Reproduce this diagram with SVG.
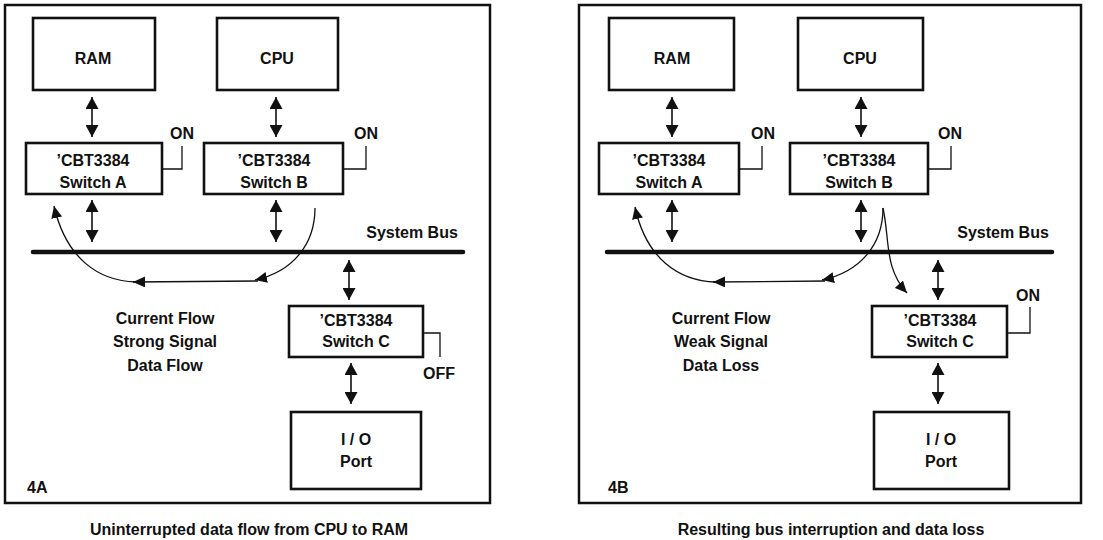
<svg xmlns="http://www.w3.org/2000/svg" width="1103" height="540" viewBox="0 0 1103 540">
<style>
text{font-family:"Liberation Sans",Arial,Helvetica,sans-serif;font-weight:bold;font-size:16px;fill:#111;text-anchor:middle}
.frame{fill:none;stroke:#111;stroke-width:2.5}
.box{fill:#fff;stroke:#111;stroke-width:2.6}
.bus{stroke:#111;stroke-width:4.5;stroke-linecap:round}
.dbl{stroke:#111;stroke-width:1.6;fill:none}
.ctl{stroke:#111;stroke-width:1.3;fill:none}
.flow{stroke:#111;stroke-width:1.3;fill:none}
.lbl{text-anchor:start}
</style>
<defs>
<marker id="ah" viewBox="0 0 12 13" refX="12" refY="6.5" markerWidth="12" markerHeight="13" markerUnits="userSpaceOnUse" orient="auto-start-reverse"><path d="M0,0 L12,6.5 L0,13 z" fill="#111"/></marker>
<marker id="fh" viewBox="0 0 12 11" refX="12" refY="5.5" markerWidth="12" markerHeight="11" markerUnits="userSpaceOnUse" orient="auto"><path d="M0,0 L12,5.5 L0,11 z" fill="#111"/></marker>
</defs>

<!-- Panel 4A -->
<g id="panelA">
<rect class="frame" x="5" y="5" width="485" height="498"/>
<text class="lbl" x="27" y="493">4A</text>
<text x="249" y="535">Uninterrupted data flow from CPU to RAM</text>
</g>
<g id="A-ram"><rect class="box" x="33" y="18" width="122" height="72"/><text x="93" y="64">RAM</text></g>
<g id="A-cpu"><rect class="box" x="217" y="18" width="121" height="72"/><text x="277" y="64">CPU</text></g>
<g id="A-swA"><rect class="box" x="26" y="143" width="136" height="51"/><text x="93" y="166">’CBT3384</text><text x="93" y="188">Switch A</text>
<polyline class="ctl" points="162,169 182,169 182,146"/><text x="182" y="139">ON</text></g>
<g id="A-swB"><rect class="box" x="204" y="143" width="139" height="51"/><text x="274" y="166">’CBT3384</text><text x="274" y="188">Switch B</text>
<polyline class="ctl" points="343,169 366,169 366,146"/><text x="366" y="139">ON</text></g>
<g id="A-bus"><line class="bus" x1="33" y1="252" x2="463" y2="252"/><text x="412" y="238">System Bus</text></g>
<g id="A-swC"><rect class="box" x="289" y="306" width="134" height="51"/><text x="356" y="326">’CBT3384</text><text x="356" y="347">Switch C</text>
<polyline class="ctl" points="423,333 440,333 440,357"/><text x="439" y="379">OFF</text></g>
<g id="A-io"><rect class="box" x="291" y="412" width="130" height="77"/><text x="356" y="445">I / O</text><text x="356" y="467">Port</text></g>
<g id="A-note"><text x="165" y="324">Current Flow</text><text x="165" y="347">Strong Signal</text><text x="165" y="371">Data Flow</text></g>

<!-- Panel 4B -->
<g id="panelB">
<rect class="frame" x="579" y="5" width="502" height="498"/>
<text class="lbl" x="608" y="493">4B</text>
<text x="831" y="535">Resulting bus interruption and data loss</text>
</g>
<g id="B-ram"><rect class="box" x="609" y="18" width="125" height="72"/><text x="672" y="64">RAM</text></g>
<g id="B-cpu"><rect class="box" x="798" y="18" width="125" height="72"/><text x="860" y="64">CPU</text></g>
<g id="B-swA"><rect class="box" x="599" y="143" width="140" height="51"/><text x="669" y="166">’CBT3384</text><text x="669" y="188">Switch A</text>
<polyline class="ctl" points="739,169 762,169 762,146"/><text x="763" y="139">ON</text></g>
<g id="B-swB"><rect class="box" x="790" y="143" width="138" height="51"/><text x="859" y="166">’CBT3384</text><text x="859" y="188">Switch B</text>
<polyline class="ctl" points="928,169 951,169 951,146"/><text x="950" y="139">ON</text></g>
<g id="B-bus"><line class="bus" x1="607" y1="252" x2="1052" y2="252"/><text x="1003" y="238">System Bus</text></g>
<g id="B-swC"><rect class="box" x="872" y="306" width="135" height="51"/><text x="940" y="326">’CBT3384</text><text x="940" y="347">Switch C</text>
<polyline class="ctl" points="1007,333 1030,333 1030,307"/><text x="1028" y="301">ON</text></g>
<g id="B-io"><rect class="box" x="874" y="412" width="135" height="77"/><text x="941" y="445">I / O</text><text x="941" y="467">Port</text></g>
<g id="B-note"><text x="721" y="324">Current Flow</text><text x="721" y="347">Weak Signal</text><text x="721" y="371">Data Loss</text></g>

<!-- Connectors -->
<g id="connectors">
<line class="dbl" x1="92" y1="97" x2="92" y2="137" marker-start="url(#ah)" marker-end="url(#ah)"/>
<line class="dbl" x1="276" y1="97" x2="276" y2="137" marker-start="url(#ah)" marker-end="url(#ah)"/>
<line class="dbl" x1="92" y1="200" x2="92" y2="242" marker-start="url(#ah)" marker-end="url(#ah)"/>
<line class="dbl" x1="276" y1="200" x2="276" y2="242" marker-start="url(#ah)" marker-end="url(#ah)"/>
<line class="dbl" x1="349" y1="260" x2="349" y2="300" marker-start="url(#ah)" marker-end="url(#ah)"/>
<line class="dbl" x1="351" y1="363" x2="351" y2="404" marker-start="url(#ah)" marker-end="url(#ah)"/>
<path class="flow" d="M315,208 C315,245 292,272 255,280" marker-end="url(#fh)"/>
<path class="flow" d="M258,281 L133,282" marker-end="url(#fh)"/>
<path class="flow" d="M136,282 C98,281 66,258 54,206" marker-end="url(#fh)"/>

<line class="dbl" x1="672" y1="97" x2="672" y2="137" marker-start="url(#ah)" marker-end="url(#ah)"/>
<line class="dbl" x1="861" y1="97" x2="861" y2="137" marker-start="url(#ah)" marker-end="url(#ah)"/>
<line class="dbl" x1="672" y1="200" x2="672" y2="242" marker-start="url(#ah)" marker-end="url(#ah)"/>
<line class="dbl" x1="861" y1="200" x2="861" y2="242" marker-start="url(#ah)" marker-end="url(#ah)"/>
<line class="dbl" x1="938" y1="260" x2="938" y2="300" marker-start="url(#ah)" marker-end="url(#ah)"/>
<line class="dbl" x1="938" y1="363" x2="938" y2="404" marker-start="url(#ah)" marker-end="url(#ah)"/>
<path class="flow" d="M883,208 C883,245 860,272 822,280" marker-end="url(#fh)"/>
<path class="flow" d="M825,281 L713,282" marker-end="url(#fh)"/>
<path class="flow" d="M716,282 C678,281 646,258 635,207" marker-end="url(#fh)"/>
<path class="flow" d="M883,208 C890,240 884,268 907,293" marker-end="url(#fh)"/>
</g>
</svg>
